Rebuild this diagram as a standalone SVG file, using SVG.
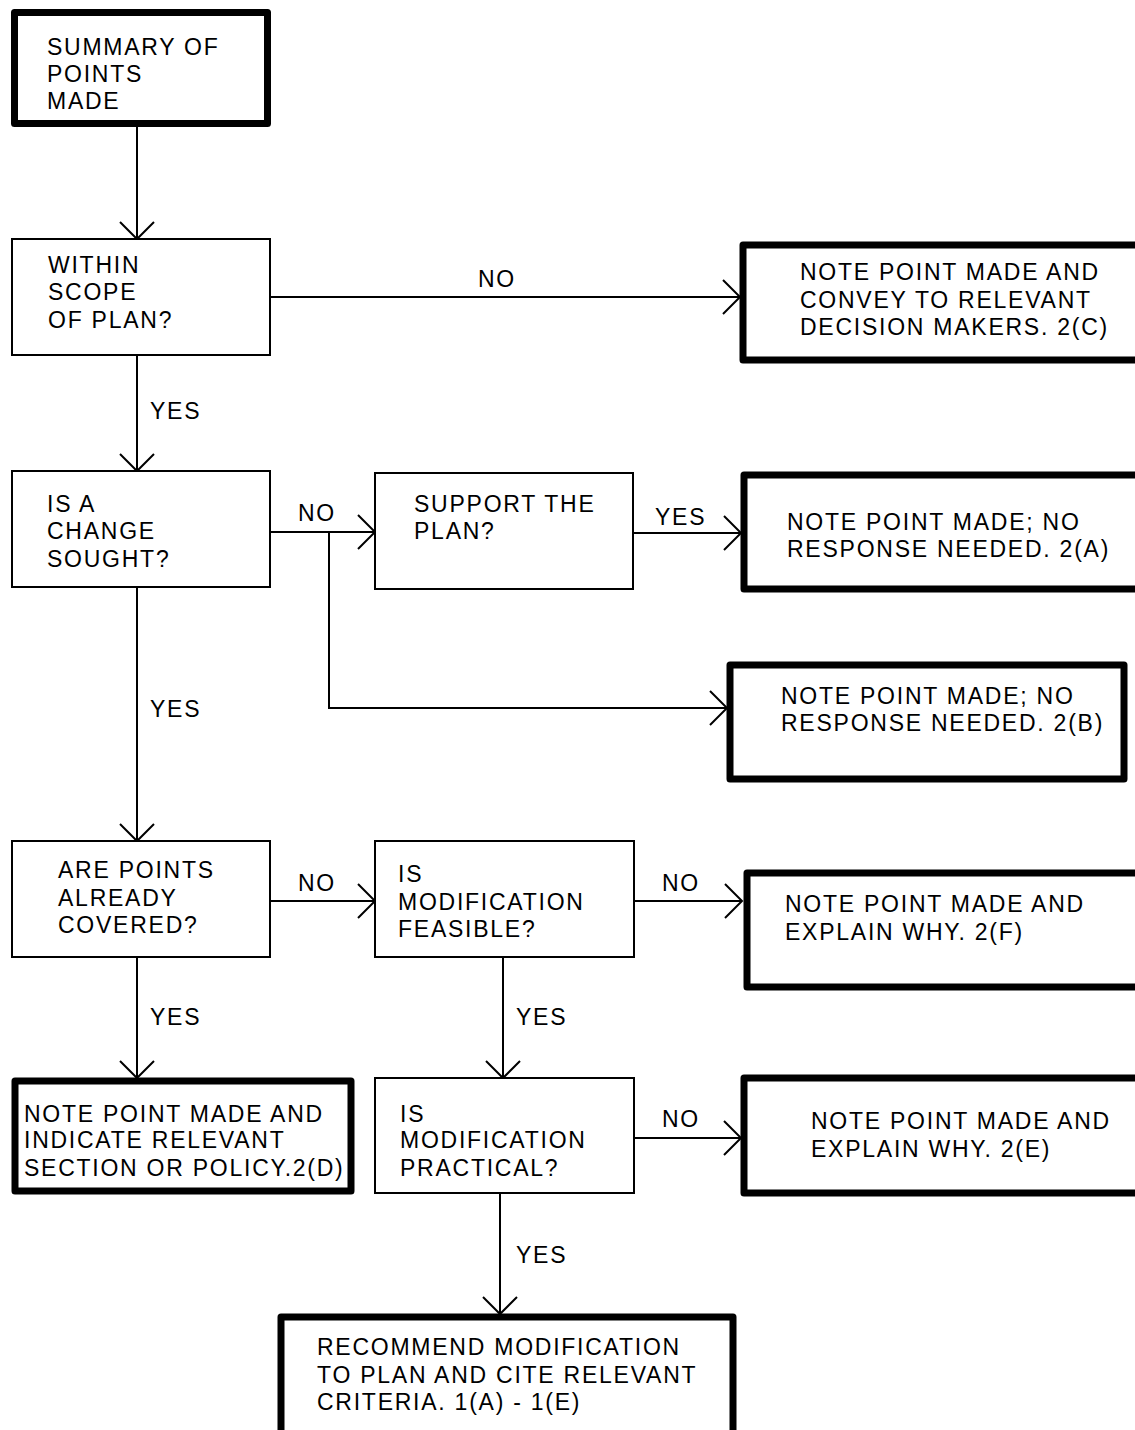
<svg xmlns="http://www.w3.org/2000/svg" width="1135" height="1430" viewBox="0 0 1135 1430">
<style>
text{font-family:"Liberation Sans",Arial,sans-serif;font-size:23px;letter-spacing:1.75px;fill:#000}
.thin{fill:#fff;stroke:#000;stroke-width:2}
.thick{fill:#fff;stroke:#000;stroke-width:7;stroke-linejoin:round}
.ln{fill:none;stroke:#000;stroke-width:2}
</style>
<defs>
<marker id="arr" viewBox="0 0 20 36" refX="18" refY="18" markerWidth="20" markerHeight="36" markerUnits="userSpaceOnUse" orient="auto">
<path d="M1,1 L18,18 L1,35" fill="none" stroke="#000" stroke-width="2"/>
</marker>
</defs>
<rect width="1135" height="1430" fill="#fff"/>
<g id="connectors">
<line class="ln" x1="137" y1="127" x2="137" y2="239" marker-end="url(#arr)"/>
<line class="ln" x1="270" y1="297" x2="740" y2="297" marker-end="url(#arr)"/>
<line class="ln" x1="137" y1="355" x2="137" y2="471" marker-end="url(#arr)"/>
<line class="ln" x1="270" y1="532" x2="375" y2="532" marker-end="url(#arr)"/>
<polyline class="ln" points="329,532 329,708 727,708" marker-end="url(#arr)"/>
<line class="ln" x1="634" y1="533" x2="741" y2="533" marker-end="url(#arr)"/>
<line class="ln" x1="137" y1="587" x2="137" y2="841" marker-end="url(#arr)"/>
<line class="ln" x1="270" y1="901" x2="375" y2="901" marker-end="url(#arr)"/>
<line class="ln" x1="634" y1="901" x2="742" y2="901" marker-end="url(#arr)"/>
<line class="ln" x1="137" y1="957" x2="137" y2="1078" marker-end="url(#arr)"/>
<line class="ln" x1="503" y1="957" x2="503" y2="1078" marker-end="url(#arr)"/>
<line class="ln" x1="634" y1="1138" x2="741" y2="1138" marker-end="url(#arr)"/>
<line class="ln" x1="500" y1="1193" x2="500" y2="1314" marker-end="url(#arr)"/>
<text x="478" y="287">NO</text>
<text x="150" y="419">YES</text>
<text x="298" y="521">NO</text>
<text x="655" y="525">YES</text>
<text x="150" y="717">YES</text>
<text x="298" y="891">NO</text>
<text x="662" y="891">NO</text>
<text x="150" y="1025">YES</text>
<text x="516" y="1025">YES</text>
<text x="662" y="1127">NO</text>
<text x="516" y="1263">YES</text>
</g>
<g id="summary">
<rect class="thick" x="14.5" y="12.5" width="253" height="111"/>
<text x="47" y="55">SUMMARY OF</text>
<text x="47" y="82">POINTS</text>
<text x="47" y="109">MADE</text>
</g>
<g id="within-scope">
<rect class="thin" x="12" y="239" width="258" height="116"/>
<text x="48" y="273">WITHIN</text>
<text x="48" y="300">SCOPE</text>
<text x="48" y="328">OF PLAN?</text>
</g>
<g id="note-2c">
<rect class="thick" x="743" y="245" width="410" height="115"/>
<text x="800" y="280">NOTE POINT MADE AND</text>
<text x="800" y="308">CONVEY TO RELEVANT</text>
<text x="800" y="335">DECISION MAKERS. 2(C)</text>
</g>
<g id="change-sought">
<rect class="thin" x="12" y="471" width="258" height="116"/>
<text x="47" y="512">IS A</text>
<text x="47" y="539">CHANGE</text>
<text x="47" y="567">SOUGHT?</text>
</g>
<g id="support-plan">
<rect class="thin" x="375" y="473" width="258" height="116"/>
<text x="414" y="512">SUPPORT THE</text>
<text x="414" y="539">PLAN?</text>
</g>
<g id="note-2a">
<rect class="thick" x="744" y="475" width="410" height="114"/>
<text x="787" y="530">NOTE POINT MADE; NO</text>
<text x="787" y="557">RESPONSE NEEDED. 2(A)</text>
</g>
<g id="note-2b">
<rect class="thick" x="730" y="665" width="394" height="114"/>
<text x="781" y="704">NOTE POINT MADE; NO</text>
<text x="781" y="731">RESPONSE NEEDED. 2(B)</text>
</g>
<g id="already-covered">
<rect class="thin" x="12" y="841" width="258" height="116"/>
<text x="58" y="878">ARE POINTS</text>
<text x="58" y="906">ALREADY</text>
<text x="58" y="933">COVERED?</text>
</g>
<g id="mod-feasible">
<rect class="thin" x="375" y="841" width="259" height="116"/>
<text x="398" y="882">IS</text>
<text x="398" y="910">MODIFICATION</text>
<text x="398" y="937">FEASIBLE?</text>
</g>
<g id="note-2f">
<rect class="thick" x="747" y="873" width="410" height="114"/>
<text x="785" y="912">NOTE POINT MADE AND</text>
<text x="785" y="940">EXPLAIN WHY. 2(F)</text>
</g>
<g id="note-2d">
<rect class="thick" x="15" y="1081" width="336" height="110"/>
<text x="24" y="1122">NOTE POINT MADE AND</text>
<text x="24" y="1148">INDICATE RELEVANT</text>
<text x="24" y="1176">SECTION OR POLICY.2(D)</text>
</g>
<g id="mod-practical">
<rect class="thin" x="375" y="1078" width="259" height="115"/>
<text x="400" y="1122">IS</text>
<text x="400" y="1148">MODIFICATION</text>
<text x="400" y="1176">PRACTICAL?</text>
</g>
<g id="note-2e">
<rect class="thick" x="744" y="1078" width="410" height="115"/>
<text x="811" y="1129">NOTE POINT MADE AND</text>
<text x="811" y="1157">EXPLAIN WHY. 2(E)</text>
</g>
<g id="recommend">
<rect class="thick" x="281" y="1317" width="452" height="130"/>
<text x="317" y="1355">RECOMMEND MODIFICATION</text>
<text x="317" y="1383">TO PLAN AND CITE RELEVANT</text>
<text x="317" y="1410">CRITERIA. 1(A) - 1(E)</text>
</g>
</svg>
